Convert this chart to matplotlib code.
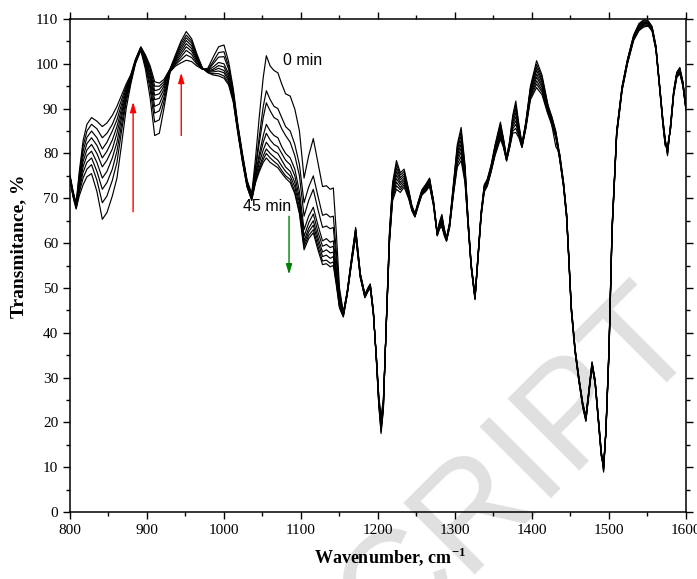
import matplotlib
matplotlib.use('Agg')
import matplotlib.pyplot as plt
from matplotlib.ticker import MultipleLocator

# wavenumber grid (cm-1) shared by all spectra
wavenumber = [800, 804, 808, 812, 817, 822, 828, 835, 842, 848,
              855, 861, 867, 873, 879, 885, 892, 898, 904, 910,
              916, 922, 930, 937, 944, 951, 958, 965, 972, 979,
              986, 993, 1000, 1006, 1012, 1018, 1024, 1030, 1036, 1041,
              1046, 1051, 1055, 1060, 1065, 1070, 1075, 1080, 1086, 1092,
              1098, 1104, 1110, 1116, 1122, 1128, 1133, 1138, 1142, 1146,
              1150, 1155, 1160, 1165, 1171, 1177, 1183, 1187, 1190, 1194,
              1198, 1201, 1204, 1207, 1211, 1215, 1219, 1224, 1229, 1234,
              1240, 1244, 1248, 1252, 1257, 1262, 1267, 1272, 1277, 1280,
              1283, 1286, 1289, 1293, 1298, 1303, 1308, 1313, 1317, 1321,
              1326, 1330, 1334, 1338, 1342, 1347, 1352, 1359, 1363, 1367,
              1371, 1375, 1379, 1383, 1387, 1392, 1398, 1406, 1413, 1420,
              1426, 1431, 1436, 1441, 1445, 1448, 1451, 1456, 1461, 1466,
              1470, 1474, 1478, 1482, 1486, 1490, 1493, 1496, 1500, 1504,
              1510, 1517, 1524, 1532, 1539, 1545, 1551, 1556, 1561, 1566,
              1570, 1573, 1576, 1580, 1584, 1588, 1592, 1596, 1600]

# transmittance (%), one list per spectrum (0 min ... 45 min)
t_0 = [74.0, 70.3, 67.6, 70.5, 73.0, 74.8, 75.5, 71.5, 65.3, 66.8,
       70.5, 74.5, 82.0, 90.0, 95.5, 100.0, 103.0, 98.8, 92.5, 84.0,
       84.5, 90.0, 98.2, 99.5, 100.2, 100.8, 100.5, 99.5, 98.8, 99.0,
       101.5, 103.8, 104.2, 100.5, 94.5, 86.5, 80.0, 74.0, 71.0, 79.0,
       88.5, 97.0, 101.8, 99.5, 98.5, 98.0, 95.5, 93.3, 92.8, 89.9,
       85.0, 74.5, 79.5, 83.3, 78.0, 72.6, 72.8, 72.0, 72.3, 62.0,
       50.0, 44.5, 49.2, 55.8, 63.5, 53.3, 48.6, 50.0, 50.9, 45.0,
       33.4, 24.0, 17.5, 22.8, 43.6, 62.7, 73.5, 78.4, 75.7, 76.5,
       71.8, 68.4, 66.6, 69.1, 71.9, 73.1, 74.5, 69.6, 62.4, 64.8,
       66.4, 63.3, 61.2, 64.6, 73.2, 82.0, 85.8, 77.5, 65.4, 55.5,
       48.2, 57.5, 67.1, 73.0, 74.3, 77.5, 81.9, 87.0, 83.3, 79.1,
       82.8, 88.5, 91.7, 86.5, 82.1, 87.1, 95.0, 100.7, 97.5, 91.5,
       86.0, 81.5, 80.0, 73.6, 66.6, 56.6, 46.1, 36.5, 30.0, 24.3,
       21.4, 27.5, 33.5, 29.5, 21.5, 13.6, 8.9, 18.6, 36.8, 63.8,
       85.1, 95.0, 101.0, 106.4, 109.0, 109.8, 109.6, 108.3, 104.0, 95.0,
       87.6, 83.3, 79.5, 86.6, 94.0, 98.1, 99.2, 96.0, 90.4]

t_5 = [74.2, 70.5, 67.8, 71.2, 74.5, 76.5, 77.5, 74.0, 69.0, 70.5,
       74.0, 78.0, 85.0, 91.5, 96.0, 100.2, 103.1, 99.5, 94.5, 87.0,
       87.5, 91.5, 98.3, 99.8, 100.9, 102.0, 101.4, 99.9, 98.8, 98.7,
       100.5, 102.5, 102.7, 99.5, 94.0, 86.2, 79.7, 73.8, 70.8, 77.0,
       84.0, 90.5, 94.0, 92.0, 90.5, 90.0, 88.0, 86.0, 85.0, 82.0,
       77.5, 69.0, 72.5, 75.0, 70.5, 66.2, 66.5, 65.8, 66.0, 58.0,
       49.0, 44.5, 49.1, 55.6, 63.2, 53.2, 48.5, 49.9, 50.8, 44.9,
       33.6, 24.2, 18.0, 23.1, 43.5, 62.4, 73.0, 77.6, 75.2, 76.0,
       71.6, 68.2, 66.5, 69.0, 71.7, 72.9, 74.3, 69.5, 62.3, 64.6,
       66.1, 63.1, 61.1, 64.5, 72.9, 81.4, 84.9, 77.0, 65.2, 55.4,
       48.1, 57.4, 66.9, 72.8, 74.1, 77.3, 81.6, 86.5, 83.1, 79.0,
       82.6, 88.0, 90.8, 86.1, 82.0, 86.9, 94.6, 99.9, 97.0, 91.2,
       88.1, 84.9, 79.7, 73.5, 66.5, 56.5, 46.0, 36.4, 29.9, 24.2,
       21.3, 27.4, 33.4, 29.4, 21.4, 13.5, 9.2, 18.5, 36.6, 63.6,
       85.0, 94.9, 100.9, 106.3, 108.8, 109.6, 109.5, 108.2, 103.9, 94.9,
       87.5, 83.1, 79.8, 86.5, 93.9, 98.0, 99.0, 95.9, 90.3]

t_10 = [74.4, 70.6, 68.0, 71.8, 75.8, 78.0, 79.0, 76.0, 72.0, 73.5,
        76.5, 80.5, 86.5, 92.3, 96.3, 100.3, 103.2, 100.0, 95.5, 89.0,
        89.5, 92.5, 98.4, 100.1, 101.5, 103.0, 102.1, 100.2, 98.8, 98.6,
        100.0, 101.5, 101.6, 98.8, 93.5, 86.0, 79.5, 73.6, 70.6, 76.5,
        82.5, 88.0, 91.3, 89.5, 88.0, 87.5, 85.5, 84.0, 82.5, 79.5,
        75.0, 66.0, 69.5, 72.0, 67.5, 63.5, 63.8, 63.2, 63.5, 56.0,
        48.5, 44.3, 49.0, 55.5, 63.0, 53.0, 48.4, 49.8, 50.6, 44.7,
        33.7, 24.5, 18.4, 23.4, 43.3, 62.1, 72.5, 76.8, 74.6, 75.5,
        71.3, 68.1, 66.4, 68.8, 71.6, 72.7, 74.1, 69.3, 62.2, 64.4,
        65.7, 62.9, 61.0, 64.3, 72.6, 80.8, 84.0, 76.5, 65.0, 55.2,
        48.0, 57.2, 66.8, 72.6, 73.9, 77.1, 81.3, 86.1, 82.8, 78.9,
        82.4, 87.5, 90.0, 85.8, 81.9, 86.7, 94.3, 99.2, 96.4, 90.9,
        87.9, 84.7, 79.5, 73.3, 66.3, 56.3, 45.8, 36.2, 29.7, 24.0,
        21.1, 27.2, 33.2, 29.2, 21.2, 13.3, 9.4, 18.3, 36.4, 63.4,
        84.8, 94.7, 100.7, 106.1, 108.6, 109.4, 109.3, 108.0, 103.7, 94.7,
        87.3, 82.9, 80.1, 86.3, 93.7, 97.8, 98.8, 95.7, 90.2]

t_15 = [74.5, 70.8, 68.1, 72.4, 77.0, 79.5, 80.5, 78.0, 74.5, 76.0,
        79.0, 82.5, 88.0, 93.0, 96.5, 100.4, 103.3, 100.4, 96.5, 90.5,
        91.0, 93.5, 98.5, 100.4, 102.1, 103.8, 102.8, 100.6, 98.9, 98.5,
        99.3, 100.3, 100.0, 97.8, 93.0, 85.7, 79.2, 73.4, 70.5, 75.5,
        80.0, 84.0, 86.5, 85.0, 84.0, 83.5, 81.5, 80.0, 79.0, 76.5,
        71.5, 63.0, 66.0, 68.0, 64.0, 60.5, 61.0, 60.2, 60.5, 54.0,
        47.5, 44.2, 48.9, 55.4, 62.8, 52.9, 48.3, 49.7, 50.5, 44.6,
        33.9, 24.8, 18.9, 23.7, 43.2, 61.8, 72.0, 76.0, 74.1, 75.0,
        71.1, 67.9, 66.3, 68.7, 71.4, 72.5, 73.8, 69.2, 62.1, 64.2,
        65.4, 62.7, 60.9, 64.2, 72.3, 80.1, 83.0, 76.0, 64.8, 55.1,
        47.9, 57.1, 66.6, 72.4, 73.7, 76.9, 81.0, 85.6, 82.6, 78.8,
        82.2, 87.0, 89.1, 85.4, 81.8, 86.5, 93.9, 98.5, 95.9, 90.6,
        87.6, 84.5, 79.4, 73.2, 66.2, 56.2, 45.7, 36.1, 29.6, 23.9,
        21.0, 27.1, 33.1, 29.1, 21.1, 13.2, 9.7, 18.2, 36.2, 63.2,
        84.7, 94.6, 100.6, 106.0, 108.4, 109.2, 109.2, 107.9, 103.6, 94.6,
        87.2, 82.7, 80.3, 86.2, 93.6, 97.7, 98.7, 95.6, 90.1]

t_20 = [74.6, 71.0, 68.2, 73.0, 78.2, 80.8, 82.0, 80.0, 77.0, 78.5,
        81.0, 84.5, 89.0, 93.5, 96.7, 100.5, 103.4, 100.8, 97.3, 92.0,
        92.3, 94.3, 98.6, 100.7, 102.7, 104.5, 103.4, 100.9, 98.9, 98.4,
        98.8, 99.6, 99.3, 97.2, 92.7, 85.5, 79.0, 73.2, 70.3, 75.0,
        79.0, 82.5, 84.5, 83.0, 82.0, 81.5, 80.0, 78.5, 77.5, 75.0,
        70.0, 61.5, 64.5, 66.5, 62.5, 59.3, 59.7, 59.0, 59.3, 53.0,
        47.0, 44.0, 48.8, 55.2, 62.5, 52.8, 48.2, 49.6, 50.4, 44.5,
        34.0, 25.0, 19.3, 24.0, 43.0, 61.5, 71.5, 75.2, 73.5, 74.5,
        70.8, 67.8, 66.2, 68.6, 71.3, 72.3, 73.6, 69.0, 62.0, 64.0,
        65.0, 62.5, 60.8, 64.0, 72.0, 79.5, 82.1, 75.5, 64.6, 55.0,
        47.8, 57.0, 66.5, 72.2, 73.5, 76.7, 80.7, 85.1, 82.3, 78.7,
        82.0, 86.5, 88.2, 85.0, 81.7, 86.3, 93.5, 97.7, 95.3, 90.3,
        87.3, 84.3, 79.2, 73.0, 66.0, 56.0, 45.5, 36.0, 29.5, 23.8,
        20.8, 27.0, 33.0, 29.0, 21.0, 13.0, 9.9, 18.0, 36.0, 63.0,
        84.5, 94.5, 100.5, 105.8, 108.2, 109.0, 109.0, 107.8, 103.5, 94.5,
        87.0, 82.5, 80.6, 86.0, 93.5, 97.5, 98.5, 95.5, 90.0]

t_25 = [74.7, 71.1, 68.4, 73.6, 79.3, 82.2, 83.5, 81.8, 79.0, 80.5,
        83.0, 86.0, 90.0, 94.0, 97.0, 100.6, 103.5, 101.1, 98.0, 93.0,
        93.3, 95.0, 98.6, 101.0, 103.3, 105.2, 104.0, 101.2, 98.9, 98.3,
        98.5, 99.0, 98.5, 96.7, 92.4, 85.3, 78.8, 73.0, 70.1, 74.5,
        78.0, 80.8, 82.5, 81.3, 80.5, 80.0, 78.5, 77.0, 76.0, 73.5,
        69.0, 60.5, 63.3, 65.0, 61.3, 58.0, 58.5, 57.8, 58.0, 52.0,
        46.5, 44.0, 48.7, 55.1, 62.2, 52.7, 48.1, 49.5, 50.3, 44.4,
        34.2, 25.2, 19.8, 24.3, 42.9, 61.2, 71.0, 74.4, 73.0, 74.0,
        70.6, 67.7, 66.1, 68.5, 71.2, 72.1, 73.4, 68.9, 61.9, 63.8,
        64.7, 62.3, 60.7, 63.9, 71.7, 78.9, 81.2, 75.0, 64.4, 54.9,
        47.7, 56.9, 66.4, 72.0, 73.3, 76.5, 80.4, 84.6, 82.1, 78.6,
        81.8, 86.0, 87.3, 84.6, 81.6, 86.1, 93.1, 97.0, 94.8, 90.0,
        87.0, 84.1, 79.1, 72.9, 65.9, 55.9, 45.4, 35.9, 29.4, 23.7,
        20.7, 26.9, 32.9, 28.9, 20.9, 12.9, 10.2, 17.9, 35.8, 62.8,
        84.4, 94.4, 100.4, 105.7, 108.0, 108.8, 108.9, 107.7, 103.4, 94.4,
        86.9, 82.3, 80.9, 85.9, 93.4, 97.4, 98.3, 95.4, 89.9]

t_30 = [74.8, 71.2, 68.5, 74.3, 80.5, 83.6, 85.0, 83.5, 81.0, 82.5,
        85.0, 87.5, 91.0, 94.5, 97.2, 100.7, 103.6, 101.4, 98.6, 94.0,
        94.3, 95.5, 98.7, 101.3, 103.9, 105.8, 104.6, 101.5, 99.0, 98.2,
        98.2, 98.4, 98.0, 96.2, 92.1, 85.0, 78.5, 72.8, 69.9, 74.0,
        77.0, 79.5, 81.0, 80.0, 79.2, 78.5, 77.2, 76.0, 75.0, 72.5,
        68.0, 59.8, 62.5, 64.0, 60.3, 57.0, 57.3, 56.6, 57.0, 51.5,
        46.0, 43.8, 48.6, 54.9, 62.0, 52.5, 48.0, 49.4, 50.2, 44.3,
        34.3, 25.5, 20.2, 24.6, 42.7, 60.9, 70.5, 73.6, 72.4, 73.5,
        70.3, 67.5, 66.0, 68.4, 71.0, 71.9, 73.1, 68.7, 61.8, 63.6,
        64.3, 62.1, 60.6, 63.7, 71.4, 78.3, 80.3, 74.5, 64.2, 54.8,
        47.6, 56.8, 66.2, 71.8, 73.1, 76.3, 80.1, 84.2, 81.8, 78.5,
        81.6, 85.5, 86.5, 84.3, 81.5, 85.9, 92.8, 96.2, 94.2, 89.7,
        86.8, 83.9, 78.9, 72.7, 65.7, 55.7, 45.2, 35.8, 29.3, 23.6,
        20.5, 26.8, 32.8, 28.8, 20.8, 12.7, 10.4, 17.7, 35.6, 62.6,
        84.2, 94.3, 100.3, 105.5, 107.8, 108.6, 108.7, 107.6, 103.3, 94.3,
        86.7, 82.1, 81.1, 85.7, 93.3, 97.2, 98.2, 95.3, 89.8]

t_35 = [75.0, 71.4, 68.7, 75.0, 81.6, 85.0, 86.5, 85.5, 83.5, 84.5,
        86.5, 89.0, 92.0, 95.0, 97.4, 100.8, 103.7, 101.7, 99.1, 95.0,
        95.0, 96.0, 98.8, 101.6, 104.5, 106.4, 105.1, 101.8, 99.0, 98.1,
        97.8, 97.8, 97.3, 95.7, 91.8, 84.8, 78.3, 72.6, 69.7, 73.8,
        76.5, 78.7, 80.0, 79.0, 78.2, 77.5, 76.2, 75.0, 74.2, 71.5,
        67.0, 59.2, 61.7, 63.0, 59.3, 56.0, 56.2, 55.5, 55.8, 51.0,
        45.8, 43.7, 48.5, 54.8, 61.8, 52.4, 47.9, 49.3, 50.0, 44.1,
        34.5, 25.8, 20.7, 24.9, 42.6, 60.6, 70.0, 72.8, 71.9, 73.0,
        70.1, 67.4, 65.9, 68.2, 70.9, 71.7, 72.9, 68.6, 61.7, 63.4,
        64.0, 61.9, 60.5, 63.6, 71.1, 77.6, 79.3, 74.0, 64.0, 54.6,
        47.5, 56.6, 66.1, 71.6, 72.9, 76.1, 79.8, 83.7, 81.6, 78.4,
        81.4, 85.0, 85.6, 83.9, 81.4, 85.7, 92.4, 95.5, 93.7, 89.4,
        86.5, 83.7, 78.8, 72.6, 65.6, 55.6, 45.1, 35.6, 29.1, 23.4,
        20.4, 26.6, 32.6, 28.6, 20.6, 12.6, 10.7, 17.6, 35.4, 62.4,
        84.1, 94.1, 100.1, 105.4, 107.6, 108.4, 108.6, 107.4, 103.1, 94.1,
        86.6, 81.9, 81.4, 85.6, 93.1, 97.1, 98.0, 95.1, 89.7]

t_45 = [75.2, 71.6, 68.9, 75.8, 82.8, 86.5, 88.0, 87.2, 86.0, 86.8,
        88.5, 90.5, 93.0, 95.5, 97.6, 101.0, 103.8, 102.0, 99.6, 96.0,
        95.7, 96.5, 98.9, 102.0, 105.0, 107.2, 105.6, 102.1, 99.1, 98.0,
        97.5, 97.3, 96.8, 95.3, 91.5, 84.5, 78.0, 72.5, 69.5, 73.5,
        76.0, 78.0, 79.0, 78.0, 77.4, 76.8, 75.6, 74.5, 73.5, 71.0,
        66.5, 58.5, 61.0, 62.3, 58.5, 55.2, 55.4, 54.7, 55.0, 50.5,
        45.5, 43.5, 48.4, 54.6, 61.5, 52.3, 47.8, 49.2, 49.9, 44.0,
        34.6, 26.0, 21.1, 25.2, 42.4, 60.3, 69.5, 72.0, 71.3, 72.5,
        69.8, 67.2, 65.8, 68.1, 70.7, 71.5, 72.7, 68.4, 61.6, 63.2,
        63.6, 61.7, 60.4, 63.4, 70.8, 77.0, 78.4, 73.5, 63.8, 54.5,
        47.4, 56.5, 65.9, 71.4, 72.7, 75.9, 79.5, 83.2, 81.3, 78.3,
        81.2, 84.5, 84.7, 83.5, 81.3, 85.5, 92.0, 94.7, 93.1, 89.1,
        86.2, 83.5, 78.6, 72.4, 65.4, 55.4, 44.9, 35.5, 29.0, 23.3,
        20.2, 26.5, 32.5, 28.5, 20.5, 12.4, 10.9, 17.4, 35.2, 62.2,
        83.9, 94.0, 100.0, 105.2, 107.4, 108.2, 108.4, 107.3, 103.0, 94.0,
        86.4, 81.7, 81.7, 85.4, 93.0, 96.9, 97.8, 95.0, 89.6]

spectra = [t_0, t_5, t_10, t_15, t_20, t_25, t_30, t_35, t_45]

plt.rcParams['font.family'] = ['Liberation Serif', 'DejaVu Serif']
plt.rcParams['mathtext.fontset'] = 'custom'
plt.rcParams['mathtext.rm'] = 'Liberation Serif'
plt.rcParams['mathtext.bf'] = 'Liberation Serif:bold'

fig = plt.figure(figsize=(6.97, 5.79), dpi=100)
ax = fig.add_axes([0.1004, 0.1157, 0.8838, 0.8515])
ax.patch.set_alpha(0)

# watermark behind the axes
fig.text(0.745, 0.19, 'CRIPT', rotation=45, fontsize=106, color='#e0e0e0',
         family='Liberation Sans', ha='center', va='center', zorder=-1)

for s in spectra:
    ax.plot(wavenumber, s, color='black', lw=0.85)

ax.set_xlim(800, 1600)
ax.set_ylim(0, 110)
ax.xaxis.set_major_locator(MultipleLocator(100))
ax.xaxis.set_minor_locator(MultipleLocator(50))
ax.yaxis.set_major_locator(MultipleLocator(10))
ax.yaxis.set_minor_locator(MultipleLocator(5))
ax.tick_params(which='both', direction='out', top=True, right=True, labelsize=11, width=1)
ax.tick_params(which='major', length=5)
ax.tick_params(which='minor', length=3)
for sp in ax.spines.values():
    sp.set_linewidth(1.1)

ax.set_xlabel(r'Wavenumber, cm$^{\mathbf{-1}}$', fontsize=13, fontweight='bold')
ax.set_ylabel('Transmitance, %', fontsize=14, fontweight='bold')
ax.xaxis.set_label_coords(0.52, -0.068)
ax.yaxis.set_label_coords(-0.07, 0.54)

# annotations
ax.text(1077, 100.7, '0 min', family='Liberation Sans', fontsize=11.5, va='center', ha='left')
ax.text(1024.5, 68.2, '45 min', family='Liberation Sans', fontsize=11.5, va='center', ha='left')
arrow_kw = dict(arrowstyle='-|>,head_width=0.18,head_length=0.6', lw=1, mutation_scale=10, shrinkA=0, shrinkB=0)
ax.annotate('', xy=(882, 91.5), xytext=(882, 67), arrowprops=dict(color='red', **arrow_kw))
ax.annotate('', xy=(944.5, 98), xytext=(944.5, 84), arrowprops=dict(color='red', **arrow_kw))
ax.annotate('', xy=(1084.5, 53), xytext=(1084.5, 66), arrowprops=dict(color='green', **arrow_kw))

fig.savefig('out.png', dpi=100)
